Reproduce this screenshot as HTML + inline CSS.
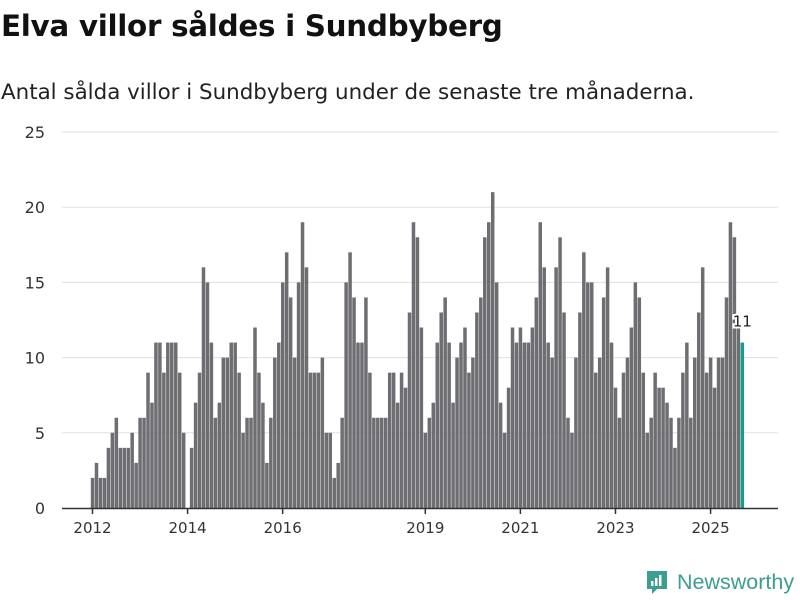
<!DOCTYPE html>
<html><head><meta charset="utf-8"><style>
body{margin:0;background:#fff;width:800px;height:600px;overflow:hidden;font-family:"DejaVu Sans","Liberation Sans",sans-serif}
h1{position:absolute;left:1px;top:9px;margin:0;font-size:29.4px;font-weight:bold;color:#111;letter-spacing:-0.3px}
p.sub{position:absolute;left:1px;top:80px;margin:0;font-size:21.4px;color:#222}
</style></head><body>
<h1>Elva villor såldes i Sundbyberg</h1>
<p class="sub">Antal sålda villor i Sundbyberg under de senaste tre månaderna.</p>
<svg id="chart" width="800" height="600" style="position:absolute;left:0;top:0"></svg>
<div style="position:absolute;left:645px;top:569px;display:flex;align-items:center">
<svg width="24" height="27" viewBox="0 0 24 27"><path d="M2 2h20v18h-10l-5 5v-5h-5z" fill="#3a9e90"/><rect x="6" y="12" width="2.5" height="5" fill="#fff"/><rect x="10" y="9" width="2.5" height="8" fill="#fff"/><rect x="14" y="6" width="2.5" height="11" fill="#fff"/></svg>
<span style="color:#3a9e90;font-size:21.5px;margin-left:8px;font-family:'Liberation Sans',sans-serif">Newsworthy</span></div>
<script>
const values=[2,3,2,2,4,5,6,4,4,4,5,3,
6,6,9,7,11,11,9,11,11,11,9,5,
0,4,7,9,16,15,11,6,7,10,10,11,
11,9,5,6,6,12,9,7,3,6,10,11,
15,17,14,10,15,19,16,9,9,9,10,5,
5,2,3,6,15,17,14,11,11,14,9,6,
6,6,6,9,9,7,9,8,13,19,18,12,
5,6,7,11,13,14,11,7,10,11,12,9,
10,13,14,18,19,21,15,7,5,8,12,11,
12,11,11,12,14,19,16,11,10,16,18,13,
6,5,10,13,17,15,15,9,10,14,16,11,
8,6,9,10,12,15,14,9,5,6,9,8,
8,7,6,4,6,9,11,6,10,13,16,9,
10,8,10,10,14,19,18,12,11];
const yTicks=[0,5,10,15,20,25];
const xTickIdx=[0,24,48,84,108,132,156];
const xTickLabels=["2012","2014","2016","2019","2021","2023","2025"];
const svg=document.getElementById('chart');const NS='http://www.w3.org/2000/svg';
const x0=92,step=3.962,yb=508,yu=15.04;
const X=i=>x0+i*step, Y=v=>yb-v*yu;
function mk(t,a){const e=document.createElementNS(NS,t);for(const k in a)e.setAttribute(k,a[k]);svg.appendChild(e);return e;}
yTicks.forEach(v=>{
 if(v>0){const g=mk('line',{x1:62,x2:778,y1:Y(v),y2:Y(v),stroke:'#e0e0e0','stroke-width':1});
 
 }
 const t=mk('text',{x:45,y:Y(v)+6,'text-anchor':'end','font-size':16,fill:'#333'});t.textContent=v;
 
 
});
values.forEach((v,i)=>{
 const last=i===values.length-1;
 const r=mk('rect',{x:X(i)-1.2,y:Y(v),width:3.5,height:v*yu,fill:last?'#1a9a8c':'#6e6d72'});
 
 
});
const ax=mk('line',{x1:62,x2:778,y1:yb+0.5,y2:yb+0.5,stroke:'#333','stroke-width':1.5});


xTickIdx.forEach((idx,k)=>{
 const tk=mk('line',{x1:X(idx)+0.5,x2:X(idx)+0.5,y1:yb,y2:yb+6,stroke:'#333','stroke-width':1.5});
 
 
 const t=mk('text',{x:X(idx)+0.5,y:yb+25,'text-anchor':'middle','font-size':15,fill:'#333'});t.textContent=xTickLabels[k];
 
 
});
const li=values.length-1;
const lb=mk('text',{x:X(li)+0.5,y:Y(values[li])-16,'text-anchor':'middle','font-size':15,fill:'#222',stroke:'#fff','stroke-width':4,'paint-order':'stroke'});
lb.textContent=values[li];


</script>
</body></html>
